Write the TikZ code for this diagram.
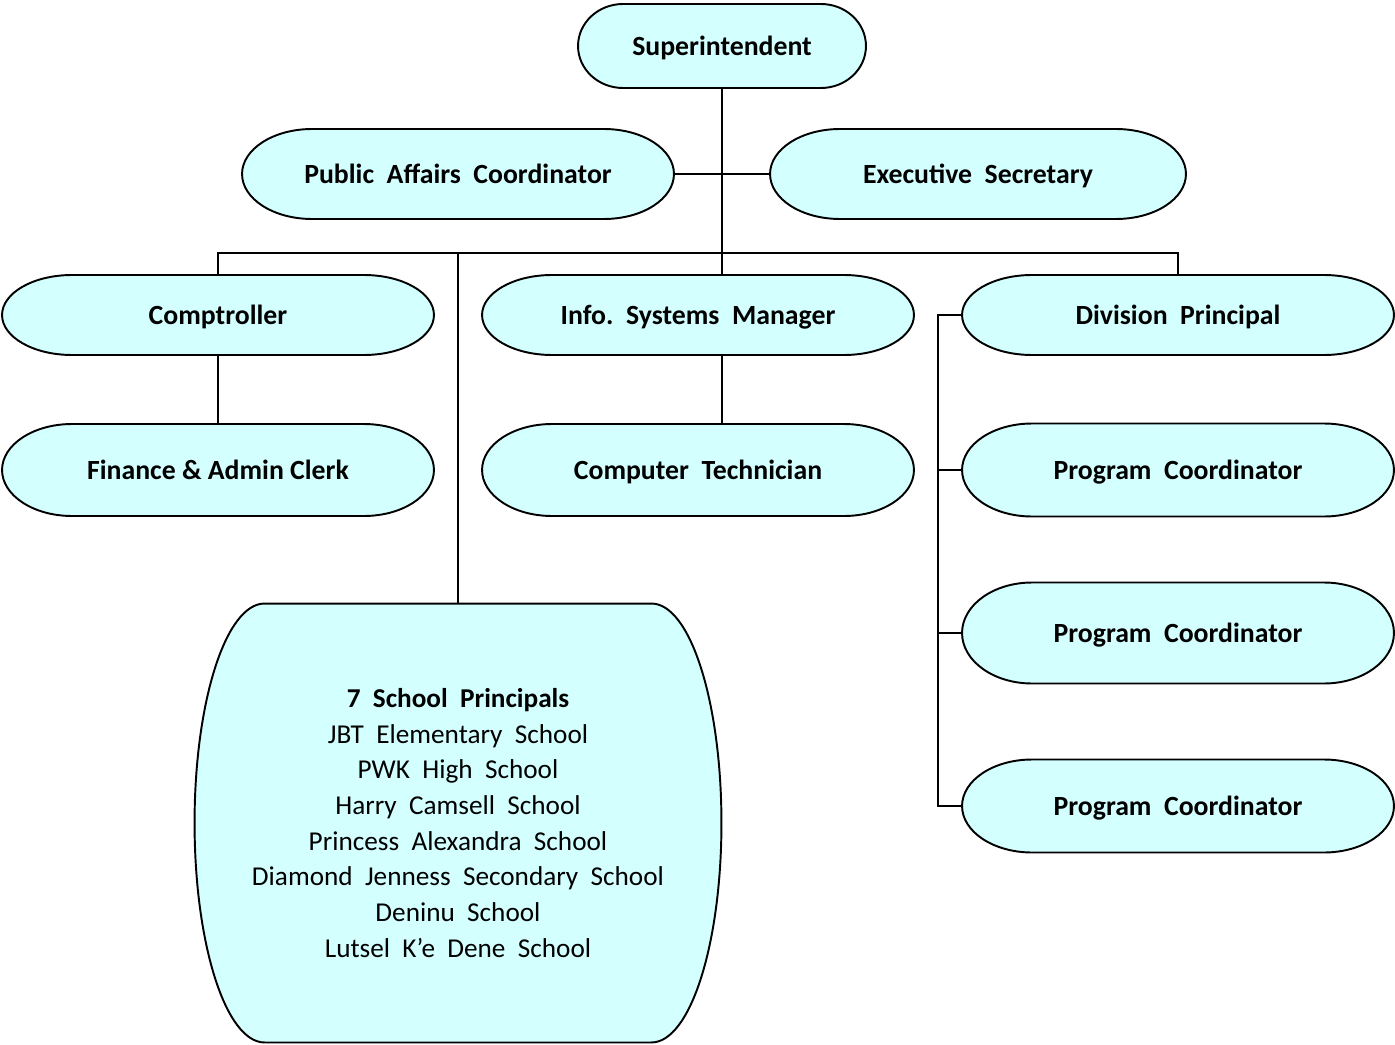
\documentclass[tikz,border=0pt]{standalone}
\usepackage{fontspec}
\setmainfont{Carlito}
\usetikzlibrary{backgrounds}
\definecolor{boxfill}{RGB}{212,255,255}
\tikzset{
  orgbox/.style={rectangle, inner sep=0pt, outer sep=0pt, text depth=0pt, font=\fontsize{15.8}{20}\selectfont\bfseries},
  listbox/.style={rectangle, inner sep=0pt, outer sep=0pt, align=center, font=\fontsize{15.5}{20.3}\selectfont},
  boxline/.style={draw=black, line width=1.1pt, fill=boxfill},
  link/.style={draw=black, line width=1.1pt}
}

\begin{document}
\begin{tikzpicture}[x=0.02cm,y=-0.02cm]
\useasboundingbox (0,0) rectangle (1395,1044);
% top
\node[orgbox, minimum width=5.76cm, minimum height=1.68cm] (sup) at (722,46) {Superintendent};
\node[orgbox, minimum width=8.64cm, minimum height=1.8cm] (pac) at (458,174) {Public\ \ Affairs\ \ Coordinator};
\node[orgbox, minimum width=8.32cm, minimum height=1.8cm] (exec) at (978,174) {Executive\ \ Secretary};
% second row
\node[orgbox, minimum width=8.64cm, minimum height=1.6cm] (comp) at (218,315) {Comptroller};
\node[orgbox, minimum width=8.64cm, minimum height=1.6cm] (ism) at (698,315) {Info.\ \ Systems\ \ Manager};
\node[orgbox, minimum width=8.64cm, minimum height=1.6cm] (div) at (1178,315) {Division\ \ Principal};
\node[orgbox, minimum width=8.64cm, minimum height=1.84cm] (fin) at (218,470) {Finance \& Admin Clerk};
\node[orgbox, minimum width=8.64cm, minimum height=1.84cm] (tech) at (698,470) {Computer\ \ Technician};
\node[orgbox, minimum width=8.64cm, minimum height=1.86cm] (prog1) at (1178,470) {Program\ \ Coordinator};
\node[orgbox, minimum width=8.64cm, minimum height=2.02cm] (prog2) at (1178,633) {Program\ \ Coordinator};
\node[orgbox, minimum width=8.64cm, minimum height=1.86cm] (prog3) at (1178,806) {Program\ \ Coordinator};
% schools
\node[listbox, minimum width=10.54cm, minimum height=8.78cm] (schools) at (458,823)
  {\textbf{7\ \ School\ \ Principals}\\JBT\ \ Elementary\ \ School\\PWK\ \ High\ \ School\\Harry\ \ Camsell\ \ School\\
   Princess\ \ Alexandra\ \ School\\Diamond\ \ Jenness\ \ Secondary\ \ School\\Deninu\ \ School\\Lutsel\ \ K'e\ \ Dene\ \ School};

% box outlines
\begin{pgfonlayer}{background}
\foreach \n/\b/\r in {sup/0.9/0.84, pac/1.4/0.9, exec/1.4/0.9, comp/1.4/0.8, ism/1.4/0.8, div/1.4/0.8,
  fin/1.4/0.92, tech/1.4/0.92, prog1/1.4/0.93, prog2/1.4/1.01, prog3/1.4/0.93, schools/1.4/4.39}
  \path[boxline] ([xshift=\b cm]\n.north west) -- ([xshift=-\b cm]\n.north east)
    arc[start angle=90, end angle=-90, x radius=\b cm, y radius=\r cm]
    -- ([xshift=\b cm]\n.south west)
    arc[start angle=270, end angle=90, x radius=\b cm, y radius=\r cm] -- cycle;
\end{pgfonlayer}

% connectors
\coordinate (bus) at (722,253);
\coordinate (rail) at (938,318);
\draw[link] (sup.south) -- (sup.south |- ism.north);
\draw[link] (pac.east) -- (exec.west);
\draw[link] (comp.north) -- (comp.north |- bus) -| (div.north);
\draw[link] (schools.north) -- (schools.north |- bus);
\draw[link] (comp.south) -- (fin.north);
\draw[link] (ism.south -| sup.south) -- (tech.north -| sup.south);
\draw[link] (div.west) -- (div.west -| rail) -- (prog3.west -| rail) -- (prog3.west);
\foreach \n in {prog1,prog2}
  \draw[link] (\n.west -| rail) -- (\n.west);
\end{tikzpicture}
\end{document}
